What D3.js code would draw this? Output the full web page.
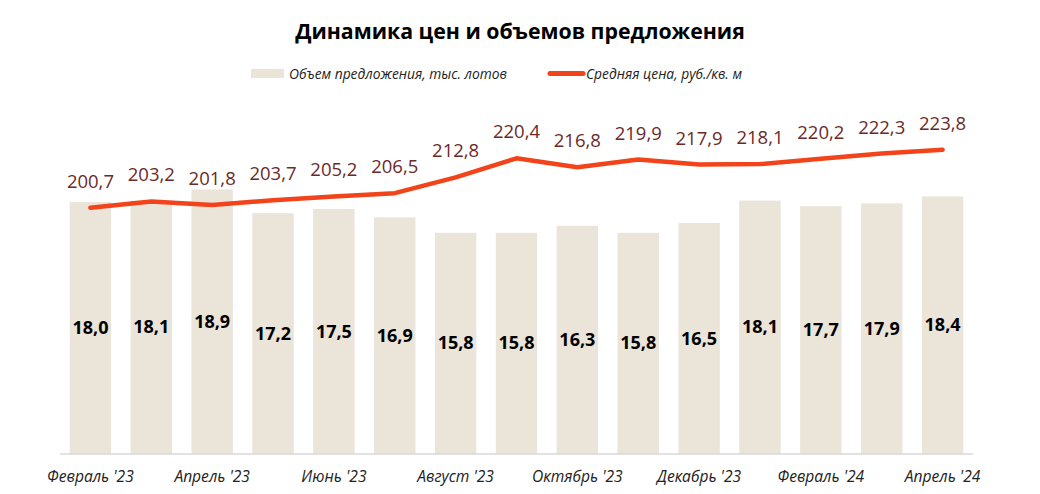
<!DOCTYPE html>
<html><head><meta charset="utf-8">
<script src="https://cdn.jsdelivr.net/npm/d3@7"></script>
<style>
body{margin:0;background:#fff;}
svg{display:block;font-family:"Open Sans","Noto Sans",sans-serif;}
</style></head>
<body><svg id="c" width="1040" height="494"></svg>
<script>
const months = ["Февраль '23","Март '23","Апрель '23","Май '23","Июнь '23","Июль '23","Август '23","Сентябрь '23","Октябрь '23","Ноябрь '23","Декабрь '23","Январь '24","Февраль '24","Март '24","Апрель '24"];
const supply = [18.0,18.1,18.9,17.2,17.5,16.9,15.8,15.8,16.3,15.8,16.5,18.1,17.7,17.9,18.4];
const price = [200.7,203.2,201.8,203.7,205.2,206.5,212.8,220.4,216.8,219.9,217.9,218.1,220.2,222.3,223.8];
const title = "Динамика цен и объемов предложения";
const legendSupply = "Объем предложения, тыс. лотов";
const legendPrice = "Средняя цена, руб./кв. м";

const FONT = "'Open Sans','Noto Sans',sans-serif";
const fmt = v => v.toFixed(1).replace(".", ",");
const svg = d3.select("#c");
const x = d3.scaleBand().domain(months).range([60, 973]).paddingInner(0.32).paddingOuter(0.16);
const y = d3.scaleLinear().domain([0, 20]).range([454, 174]);
const y2 = d3.scaleLinear().domain([180, 230]).range([259.7, 134.2]);

svg.append("text").attr("x", 520).attr("y", 39).attr("text-anchor", "middle")
  .attr("font-size", 21.3).attr("font-weight", "bold").attr("fill", "#000").text(title);

// legend
const lg = svg.append("g").attr("font-style", "italic").attr("font-size", 13.8).attr("fill", "#222");
lg.append("rect").attr("x", 251).attr("y", 69).attr("width", 33).attr("height", 9).attr("fill", "#EAE4D9");
lg.append("text").attr("x", 289).attr("y", 79).text(legendSupply);
lg.append("line").attr("x1", 550).attr("x2", 583).attr("y1", 73.5).attr("y2", 73.5)
  .attr("stroke", "#F2431A").attr("stroke-width", 5).attr("stroke-linecap", "round");
lg.append("text").attr("x", 586).attr("y", 79).text(legendPrice);

// bars
svg.append("g").selectAll("rect").data(supply).join("rect")
  .attr("x", (d, i) => x(months[i])).attr("width", x.bandwidth())
  .attr("y", d => y(d)).attr("height", d => y(0) - y(d)).attr("fill", "#EAE4D9");

// axis
const ax = svg.append("g").attr("transform", "translate(0,454)")
  .call(d3.axisBottom(x).tickSize(0).tickFormat((d, i) => i % 2 === 0 ? d : ""));
ax.select(".domain").attr("stroke", "#d9d9d9").attr("stroke-width", 1.5).attr("d", "M60,0H973");
ax.selectAll("text").attr("font-family", FONT).attr("font-size", 15.6)
  .attr("font-style", "italic").attr("fill", "#222").attr("dy", 24.5);

// bar labels
svg.append("g").selectAll("text").data(supply).join("text")
  .attr("x", (d, i) => x(months[i]) + x.bandwidth() / 2)
  .attr("y", d => (y(d) + y(0)) / 2 + 6).attr("text-anchor", "middle")
  .attr("font-size", 18).attr("font-weight", "bold").attr("fill", "#000").text(d => fmt(d));

// line
const cx = i => x(months[i]) + x.bandwidth() / 2;
svg.append("path").datum(price)
  .attr("d", d3.line().x((d, i) => cx(i)).y(d => y2(d)))
  .attr("fill", "none").attr("stroke", "#F2431A").attr("stroke-width", 4.5).attr("stroke-linecap", "round").attr("stroke-linejoin", "round");

svg.append("g").selectAll("text").data(price).join("text")
  .attr("x", (d, i) => cx(i)).attr("y", d => y2(d) - 20).attr("text-anchor", "middle")
  .attr("font-size", 18.5).attr("fill", "#6B2A2A").text(d => fmt(d));
</script></body></html>
